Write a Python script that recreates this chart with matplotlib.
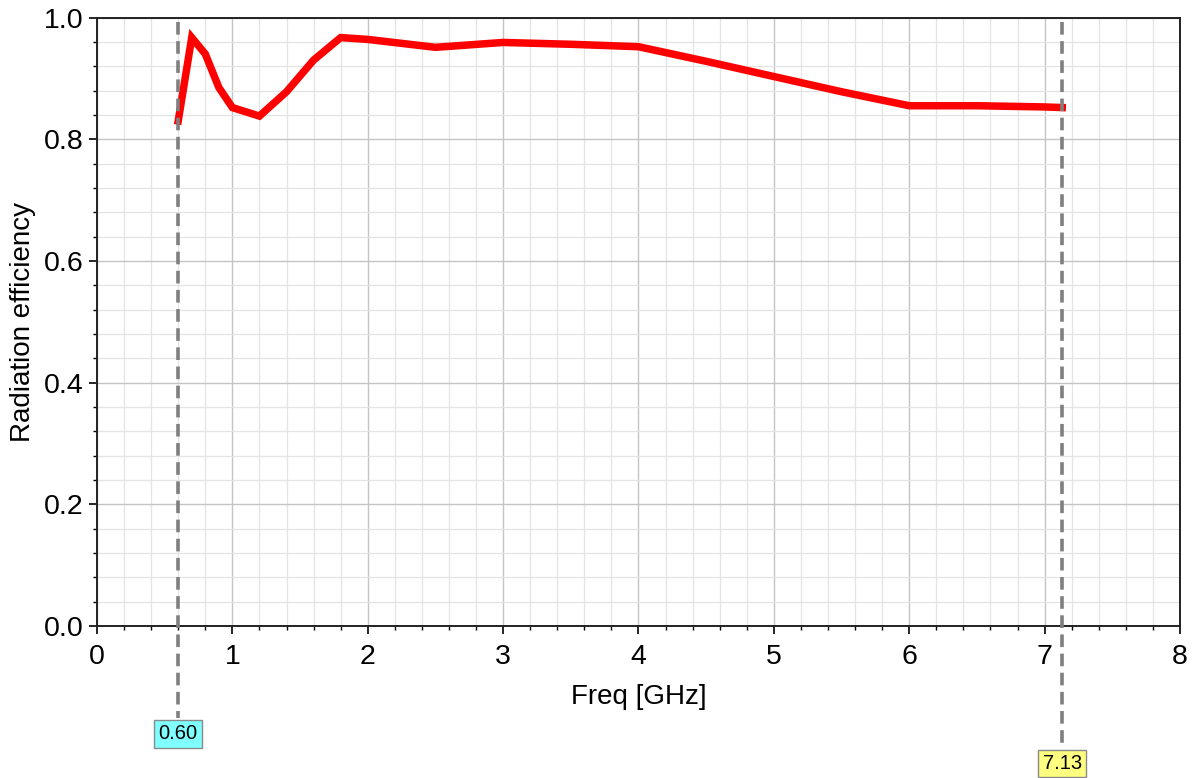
import matplotlib
matplotlib.use('Agg')
import matplotlib.pyplot as plt
from matplotlib.ticker import MultipleLocator
import matplotlib.transforms as mtransforms

plt.rcParams['font.family'] = ['Liberation Sans', 'DejaVu Sans']

# -------------------- Data --------------------
freq = [0.6, 0.7, 0.8, 0.9, 1.0, 1.2, 1.4, 1.6, 1.8, 2.0, 2.5, 3.0, 3.5,
        4.0, 4.5, 5.0, 5.5, 6.0, 6.5, 7.0, 7.13]
efficiency = [0.830, 0.967, 0.940, 0.885, 0.852, 0.838, 0.878, 0.930, 0.967,
              0.964, 0.951, 0.959, 0.956, 0.952, 0.928, 0.903, 0.878, 0.855,
              0.855, 0.853, 0.852]

marker_x = [0.60, 7.13]
marker_labels = ['0.60', '7.13']
marker_colors = ['#80ffff', '#ffff80']

# -------------------- Plot --------------------
fig = plt.figure(figsize=(11.93, 7.78), dpi=100)
ax = fig.add_axes([0.0813, 0.1954, 0.9078, 0.7821])

ax.plot(freq, efficiency, color='#ff0000', linewidth=5.4, solid_joinstyle='miter', zorder=3)

ax.set_xlim(0, 8)
ax.set_ylim(0, 1.0)
ax.xaxis.set_major_locator(MultipleLocator(1))
ax.xaxis.set_minor_locator(MultipleLocator(0.2))
ax.yaxis.set_major_locator(MultipleLocator(0.2))
ax.yaxis.set_minor_locator(MultipleLocator(0.04))
ax.yaxis.set_major_formatter(plt.FormatStrFormatter('%.1f'))

ax.grid(which='major', color='#c4c4c4', linewidth=1.0)
ax.grid(which='minor', color='#e4e4e4', linewidth=0.9)
ax.set_axisbelow(True)

ax.tick_params(which='major', direction='out', length=6, width=1.2, labelsize=20.5)
ax.tick_params(axis='x', which='major', pad=7)
ax.tick_params(which='minor', direction='out', length=3, width=1.0)
for sp in ax.spines.values():
    sp.set_linewidth(1.4)
    sp.set_color('#222222')

ax.set_xlabel('Freq [GHz]', fontsize=20, labelpad=10)
ax.set_ylabel('Radiation efficiency', fontsize=20, labelpad=6)

# marker lines with value boxes below the axis
trans = mtransforms.blended_transform_factory(ax.transData, ax.transAxes)
box_tops = [-0.151, -0.200]
box_centers = [-0.177, -0.226]
for mx, lab, col, top, cen in zip(marker_x, marker_labels, marker_colors, box_tops, box_centers):
    ax.plot([mx, mx], [0.992, top], transform=trans, color='#7f7f7f', linewidth=2.6,
            linestyle=(0, (3.5, 1.8)), clip_on=False, zorder=4)
    ax.text(mx, cen, lab, transform=trans, ha='center', va='center', fontsize=14.5,
            bbox=dict(boxstyle='square,pad=0.22', facecolor=col, edgecolor='#8a8a8a', linewidth=1.0),
            clip_on=False, zorder=5)

fig.savefig('out.png', dpi=100)
